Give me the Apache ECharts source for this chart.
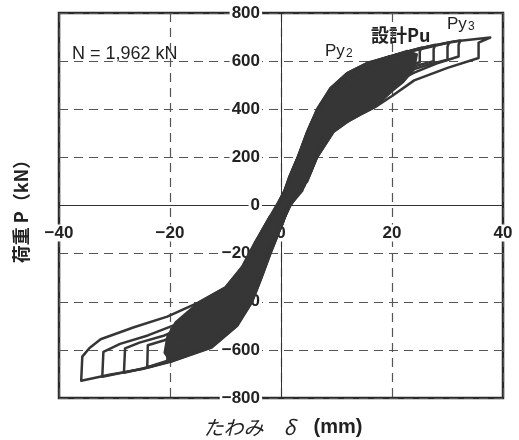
<!DOCTYPE html>
<html>
<head>
<meta charset="utf-8">
<script src="https://cdn.jsdelivr.net/npm/echarts@6/dist/echarts.min.js"></script>
<style>
  html, body { margin: 0; padding: 0; background: #fff; }
  #chart { width: 519px; height: 440px; }
</style>
</head>
<body>
<div id="chart"></div>
<script>
// tick values
var xTicks = [-40, -20, 0, 20, 40];
var yTicks = [-800, -600, -400, -200, 0, 200, 400, 600, 800];

// hysteresis cycles, [deflection mm, load kN]
var cycle1 = [[-0.8,0],[0.6,60],[1.5,120],[3,200],[4.6,300],[6.5,400],[8.9,488],[11.9,550],[15.5,592],[19.7,620],[25.1,654],[31.1,682],[37.7,698],[35.6,677],[35.6,613],[30,572],[24,520],[20,455],[17,410],[14.3,378],[12,348],[9.5,307],[6.5,200],[4.7,100],[1.2,0],[0.4,-67],[-1.9,-200],[-3.5,-300],[-5.2,-400],[-7.9,-500],[-12.5,-590],[-19.9,-650],[-25,-680],[-30.7,-702],[-36,-728],[-35.8,-628],[-34.5,-592],[-32.5,-556],[-26.5,-506],[-20.5,-462],[-15,-405],[-10,-340],[-7,-255],[-4.6,-150],[-2.5,-67],[-0.8,0]];
var cycle2 = [[-0.6,0],[0.8,70],[2,140],[3.4,220],[5,320],[7,415],[9.6,495],[12.8,555],[16.5,597],[21,628],[26.5,660],[32.3,686],[32,668],[32,619],[28,590],[24,552],[20,505],[16,450],[12.5,390],[9.5,320],[7,230],[5,120],[1.3,0],[0.2,-80],[-2.2,-200],[-3.9,-300],[-5.7,-400],[-8.5,-500],[-13,-588],[-19.5,-645],[-25,-678],[-32.2,-712],[-32,-608],[-29,-575],[-24,-540],[-19,-495],[-14,-430],[-9.5,-350],[-6.6,-250],[-4.2,-140],[-2.2,-60],[-0.6,0]];
var cycle3 = [[-0.4,0],[1,80],[2.3,160],[3.8,240],[5.4,340],[7.5,430],[10.2,505],[13.5,560],[17.5,602],[22.5,636],[27,660],[30.3,678],[30,660],[30,606],[26.5,585],[23,560],[19.5,528],[16,480],[12.5,415],[9.5,340],[7.2,250],[5.4,140],[1.4,0],[0.1,-85],[-2.4,-200],[-4.2,-300],[-6,-400],[-9,-500],[-13.5,-585],[-19,-640],[-23.5,-670],[-28.3,-695],[-28.1,-594],[-25.5,-570],[-21,-540],[-16.5,-495],[-12.5,-440],[-9,-360],[-6.3,-260],[-4,-150],[-2,-60],[-0.4,0]];
var cycle4 = [[-0.2,0],[1.2,90],[2.6,175],[4.2,260],[5.9,360],[8,445],[10.8,512],[14.2,566],[18.5,608],[23,640],[27.8,668],[27.5,650],[27.5,600],[24.5,582],[21,555],[17.5,520],[14,465],[11,400],[8.5,320],[6.6,220],[5,120],[1.5,0],[0,-90],[-2.6,-200],[-4.4,-300],[-6.3,-400],[-9.4,-500],[-14,-585],[-19,-635],[-24.1,-672],[-24,-581],[-21,-560],[-17,-520],[-13,-470],[-10,-400],[-7.5,-320],[-5.5,-230],[-3.6,-130],[-1.8,-50],[-0.2,0]];
var cycle5 = [[0,0],[1.4,100],[2.9,190],[4.5,280],[6.3,380],[8.5,460],[11.3,520],[14.8,572],[19,612],[22.5,638],[25.3,656],[25,640],[25,595],[22,578],[19,552],[15.8,512],[12.5,452],[10,385],[7.8,300],[6,200],[4.5,100],[1.5,0],[-0.1,-90],[-2.8,-200],[-4.6,-300],[-6.6,-400],[-9.8,-500],[-14.5,-590],[-20.5,-650],[-20.3,-565],[-17.5,-545],[-14.5,-515],[-11.5,-470],[-9,-405],[-6.8,-320],[-5,-220],[-3.2,-120],[-1.5,-40],[0,0]];
var cycle6 = [[0.2,0],[1.6,110],[3.1,200],[4.8,300],[6.6,395],[8.9,470],[11.8,528],[15.2,578],[19,614],[22.8,642],[22.5,628],[22.5,590],[20,575],[17,548],[14,505],[11.5,445],[9.2,370],[7.2,280],[5.6,180],[4.2,80],[1.6,0],[-0.2,-95],[-3,-200],[-4.8,-300],[-6.9,-400],[-10.2,-500],[-14,-580],[-17.2,-622],[-17,-545],[-14.5,-528],[-12,-500],[-9.8,-455],[-7.8,-390],[-6,-300],[-4.4,-200],[-2.8,-100],[-1.2,-30],[0.2,0]];
var cycle7 = [[0.4,0],[1.8,120],[3.3,210],[5,310],[6.9,405],[9.2,478],[12.2,535],[15.6,585],[19.5,620],[19.2,606],[19.2,570],[17,555],[14.5,525],[12,480],[10,420],[8.2,340],[6.6,250],[5.2,150],[3.8,60],[1.6,0],[-0.3,-95],[-3.2,-200],[-5,-300],[-7.2,-400],[-10.6,-500],[-14,-598],[-13.8,-530],[-11.8,-510],[-9.8,-475],[-8.4,-420],[-6.8,-350],[-5.2,-260],[-3.8,-160],[-2.2,-70],[-0.8,-10],[0.4,0]];
var cycle8 = [[0.6,0],[2,130],[3.6,220],[5.3,320],[7.2,412],[9.6,485],[12.6,545],[16,596],[15.7,580],[15.7,545],[13.8,528],[11.8,495],[10,450],[8.5,385],[7.2,300],[5.8,200],[4.4,100],[1.7,0],[-0.4,-100],[-3.4,-200],[-5.2,-300],[-7.5,-400],[-9.4,-470],[-11,-560],[-10.9,-500],[-10,-465],[-8.8,-410],[-7.2,-330],[-5.6,-230],[-3.8,-120],[-2,-45],[0.6,0]];

// dense core of overlapping loops
var corePos = [[-0.8,0],[0.6,60],[1.5,120],[3,200],[4.6,300],[6.5,400],[8.9,488],[11.9,550],[15.5,592],[19.7,620],[23,642],[24.5,628],[24,566],[22,512],[20,475],[17,410],[14.3,378],[12,348],[9.5,307],[6.5,200],[4.7,100],[1.2,0]];
var coreNeg = [[1.2,0],[0.4,-67],[-1.9,-200],[-3.5,-300],[-5.2,-400],[-7.9,-500],[-12.5,-590],[-19.9,-650],[-21,-612],[-20.5,-545],[-19,-485],[-15,-405],[-10,-340],[-7,-255],[-4.6,-150],[-2.5,-67],[-0.8,0]];

var cycles = [cycle1, cycle2, cycle3, cycle4, cycle5, cycle6, cycle7, cycle8];

var INK = '#363636';
var TXT = '#222';

var GRID = {left: 59, right: 16, top: 13, bottom: 42};
var W = 519, H = 440;
// move the axes (line and labels) onto the zero lines
var xOffset = -((H - GRID.top - GRID.bottom) / 2);
var yOffset = -((W - GRID.left - GRID.right) / 2);

function minus(v) {
    return v < 0 ? '\u2212' + Math.abs(v) : String(v);
}

function fillSeries(points) {
    return {
        type: 'custom',
        data: points,
        silent: true,
        z: 2,
        renderItem: function (params, api) {
            if (params.dataIndex !== 0) return null;
            return {
                type: 'polygon',
                shape: {points: points.map(function (p) { return api.coord(p); })},
                style: {fill: INK, stroke: INK, lineWidth: 2}
            };
        }
    };
}

var series = [fillSeries(corePos), fillSeries(coreNeg)];
cycles.forEach(function (c) {
    series.push({
        type: 'line',
        data: c,
        showSymbol: false,
        silent: true,
        lineStyle: {color: INK, width: 2.5, join: 'round'},
        z: 3
    });
});

var labelStyle = {
    margin: 19, color: TXT, fontSize: 17, fontWeight: 'bold', fontFamily: 'Liberation Sans',
    backgroundColor: '#fff', padding: [0, 2], formatter: minus
};

var chart = echarts.init(document.getElementById('chart'));
chart.setOption({
    backgroundColor: '#fff',
    animation: false,
    grid: {left: GRID.left, right: GRID.right, top: GRID.top, bottom: GRID.bottom, show: true,
        borderColor: '#2a2a2a', borderWidth: 2.5, outerBoundsMode: 'none'},
    xAxis: {
        type: 'value',
        min: xTicks[0], max: xTicks[xTicks.length - 1], interval: 20,
        offset: xOffset,
        axisLine: {onZero: false, lineStyle: {color: '#333', width: 1}},
        axisTick: {show: false},
        axisLabel: labelStyle,
        splitLine: {show: true, lineStyle: {color: '#555', width: 1.2, type: [9, 6]}}
    },
    yAxis: {
        type: 'value',
        min: yTicks[0], max: yTicks[yTicks.length - 1], interval: 200,
        offset: yOffset,
        axisLine: {onZero: false, lineStyle: {color: '#333', width: 1}},
        axisTick: {show: false},
        axisLabel: labelStyle,
        splitLine: {show: true, lineStyle: {color: '#555', width: 1.2, type: [9, 6]}}
    },
    graphic: [
        {type: 'text', x: 72, y: 54, style: {text: 'N = 1,962 kN', fill: TXT, font: '18px "Liberation Sans"', textAlign: 'left', textVerticalAlign: 'middle', align: 'left', verticalAlign: 'middle'}},
        {type: 'text', x: 325, y: 51.5, style: {text: 'Py', fill: TXT, font: '17px "Liberation Sans"', textAlign: 'left', textVerticalAlign: 'middle', align: 'left', verticalAlign: 'middle'}},
        {type: 'text', x: 346, y: 54, style: {text: '2', fill: TXT, font: '12px "Liberation Sans"', textAlign: 'left', textVerticalAlign: 'middle', align: 'left', verticalAlign: 'middle'}},
        {type: 'text', x: 371, y: 35, style: {text: '設計Pu', fill: TXT, font: 'bold 18px "Noto Sans CJK JP"', textAlign: 'left', textVerticalAlign: 'middle', align: 'left', verticalAlign: 'middle'}},
        {type: 'text', x: 447, y: 24, style: {text: 'Py', fill: TXT, font: '17px "Liberation Sans"', textAlign: 'left', textVerticalAlign: 'middle', align: 'left', verticalAlign: 'middle'}},
        {type: 'text', x: 468, y: 27, style: {text: '3', fill: TXT, font: '12px "Liberation Sans"', textAlign: 'left', textVerticalAlign: 'middle', align: 'left', verticalAlign: 'middle'}},
        {type: 'text', x: 21, y: 207, rotation: Math.PI / 2,
            style: {text: '荷重 P（kN）', fill: TXT, font: 'bold 18px "Noto Sans CJK JP"', textAlign: 'center', textVerticalAlign: 'middle', align: 'center', verticalAlign: 'middle'}},
        {type: 'text', x: 283, y: 427,
            style: {
                text: '{a|たわみ　δ}{b|(mm)}', fill: TXT,
                textAlign: 'center', textVerticalAlign: 'middle', align: 'center', verticalAlign: 'middle',
                rich: {
                    a: {fontStyle: 'italic', fontSize: 20, fontFamily: 'Noto Sans CJK JP', fill: TXT},
                    b: {fontWeight: 'bold', fontSize: 20, fontFamily: 'Liberation Sans', fill: TXT, padding: [0, 0, 0, 18]}
                }
            }}
    ],
    series: series
});
</script>
</body>
</html>
